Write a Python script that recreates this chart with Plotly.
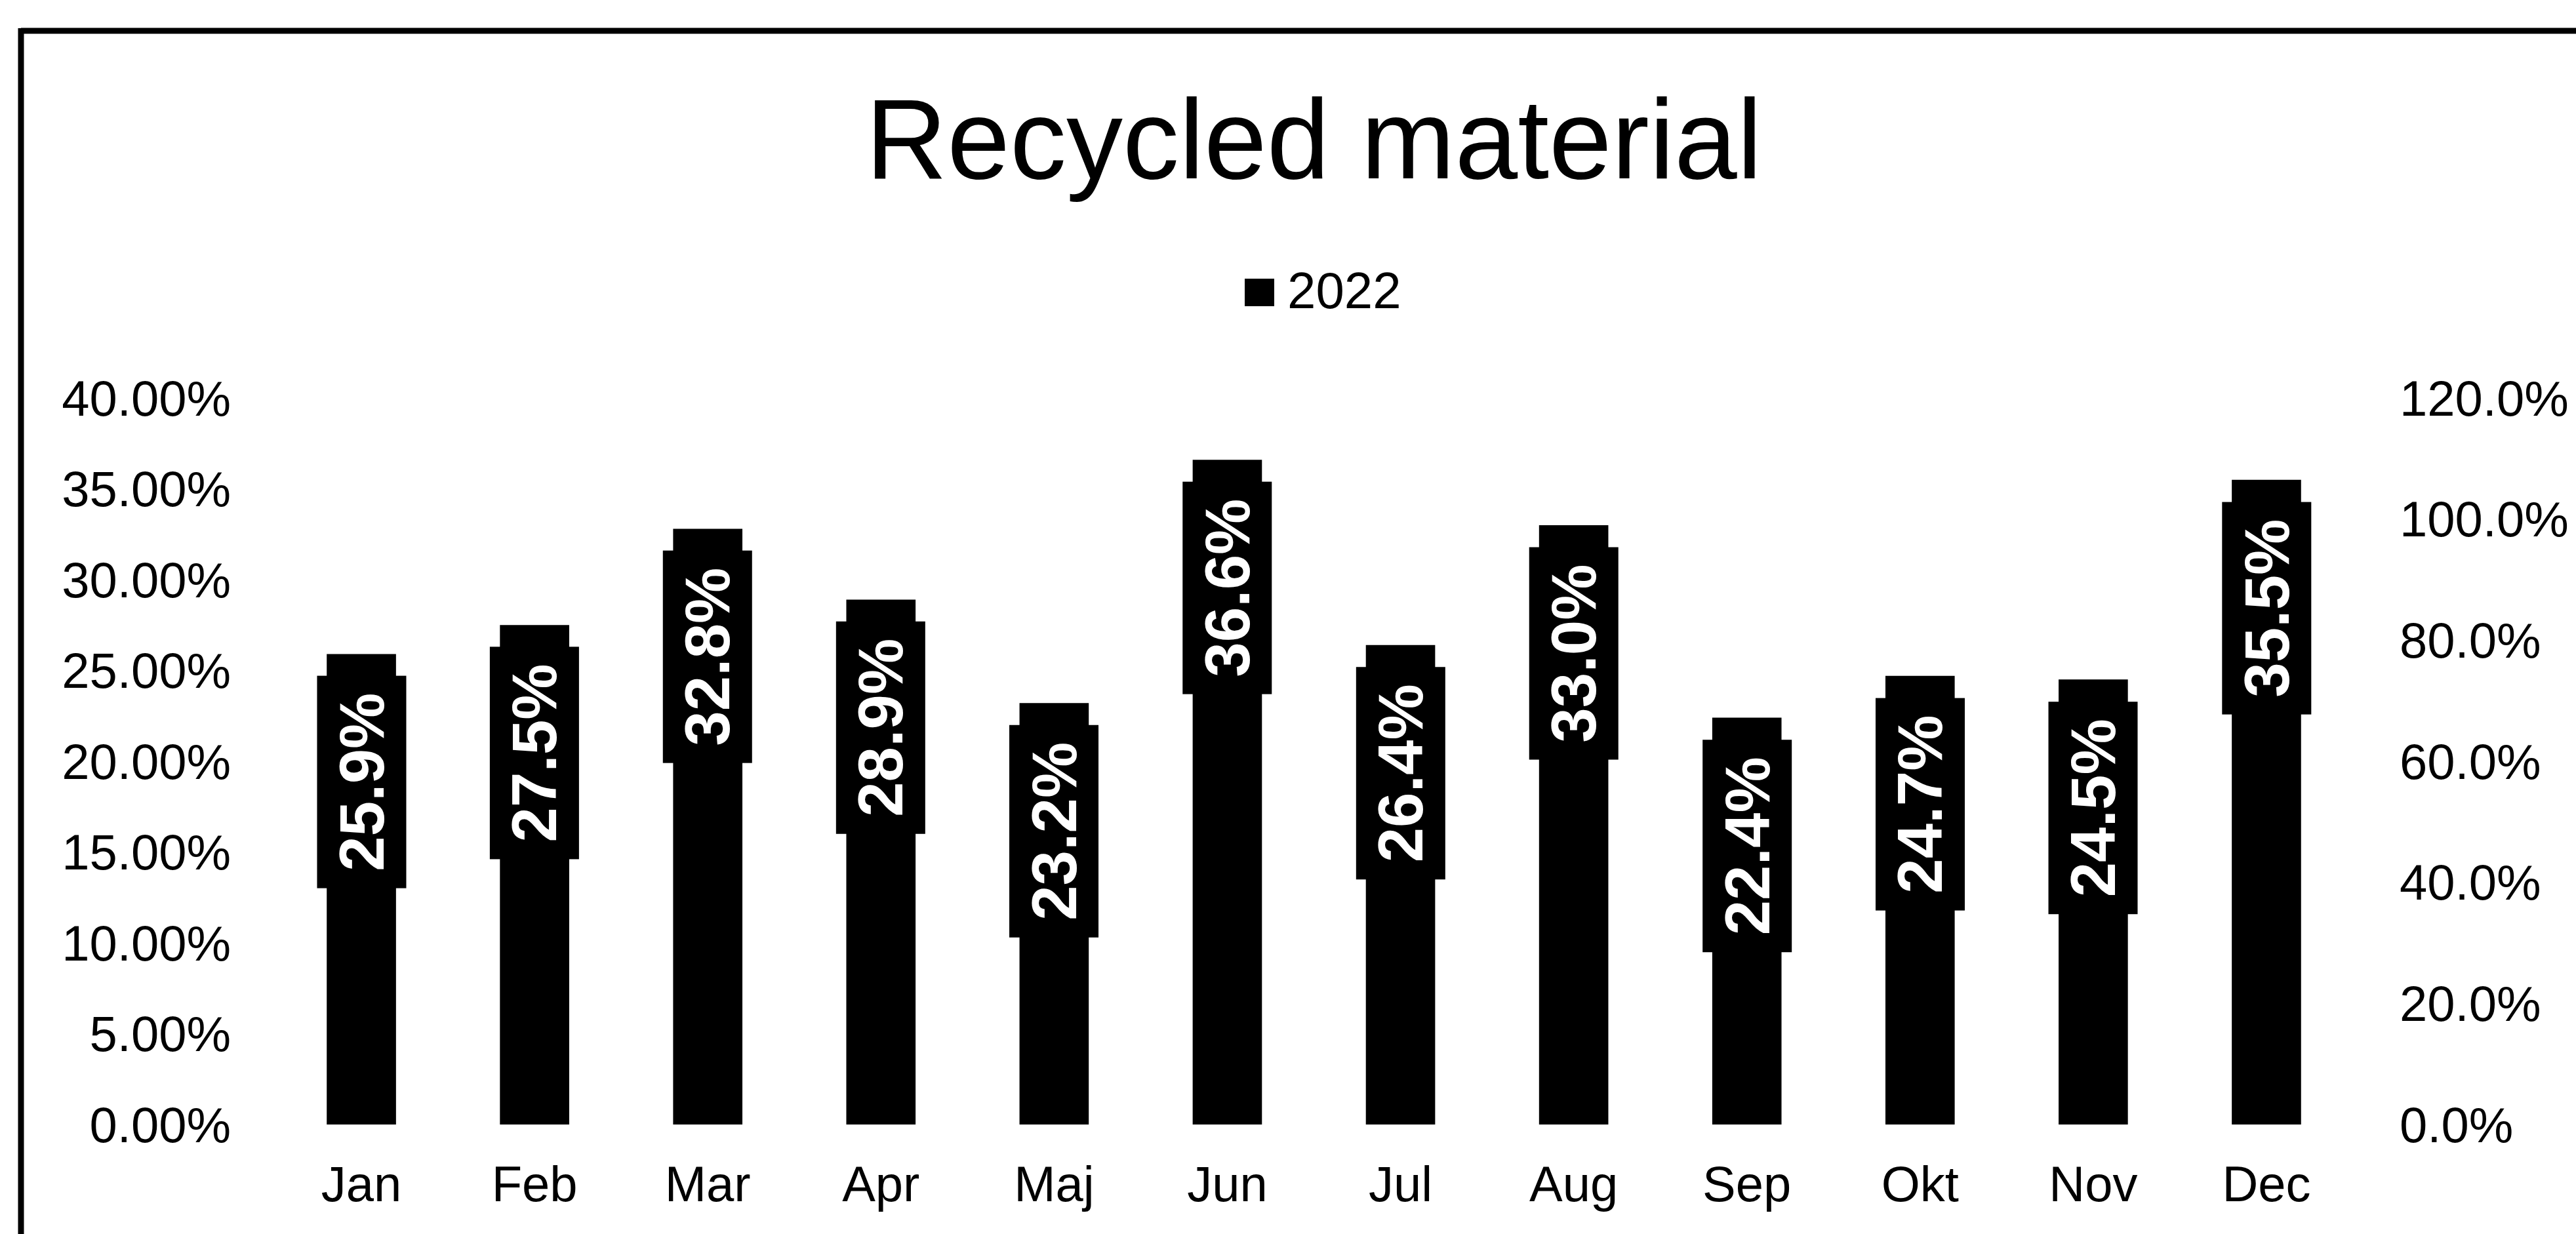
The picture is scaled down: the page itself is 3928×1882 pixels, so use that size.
import plotly.graph_objects as go

# Monthly share of recycled material, 2022 (percent)
months = ["Jan", "Feb", "Mar", "Apr", "Maj", "Jun", "Jul", "Aug", "Sep", "Okt", "Nov", "Dec"]
recycled_pct = [25.9, 27.5, 32.8, 28.9, 23.2, 36.6, 26.4, 33.0, 22.4, 24.7, 24.5, 35.5]
series_name = "2022"
title_text = "Recycled material"

W, H = 3928, 1882
M_L, M_R, M_T, M_B = 419, 340, 607, 167
FONT = "Liberation Sans, Arial, sans-serif"


def px_x(px):
    """Pixel column -> paper x."""
    return (px - M_L) / (W - M_L - M_R)


def px_y(py):
    """Pixel row (from top) -> paper y."""
    return (H - M_B - py) / (H - M_T - M_B)


shares = [v / 100 for v in recycled_pct]

fig = go.Figure()
fig.add_trace(go.Bar(
    x=months, y=shares, name=series_name,
    marker=dict(color="#000000", line=dict(width=0)),
    showlegend=False, hoverinfo="x+y",
))
# empty series so the secondary percentage axis is drawn
fig.add_trace(go.Scatter(
    x=months, y=[None] * len(months), yaxis="y2",
    mode="lines", showlegend=False, hoverinfo="skip",
))

# value labels: black boxes with white vertical text near the bar tops
for m, v, s in zip(months, recycled_pct, shares):
    fig.add_annotation(
        x=m, y=s, xref="x", yref="y",
        text=f"{v:.1f}%", showarrow=False,
        textangle=-90, xanchor="center", yanchor="top", yshift=-33,
        bgcolor="#000000", borderpad=0, width=323, height=135,
        font=dict(family=FONT, size=96, color="#ffffff", weight="bold"),
    )

# legend entry
fig.add_shape(type="rect", xref="paper", yref="paper",
              x0=px_x(1898), x1=px_x(1943), y0=px_y(467), y1=px_y(425),
              fillcolor="#000000", line=dict(width=0))
fig.add_annotation(x=px_x(1961), y=px_y(443), xref="paper", yref="paper",
                   text=series_name, showarrow=False,
                   xanchor="left", yanchor="middle",
                   font=dict(family=FONT, size=78, color="#000000"))

# chart frame (top and left edges)
fig.add_shape(type="line", xref="paper", yref="paper",
              x0=px_x(32), x1=px_x(W + 10), y0=px_y(47), y1=px_y(47),
              line=dict(color="#000000", width=9))
fig.add_shape(type="line", xref="paper", yref="paper",
              x0=px_x(32), x1=px_x(32), y0=px_y(43), y1=px_y(H + 10),
              line=dict(color="#000000", width=9))

fig.update_layout(
    width=W, height=H,
    margin=dict(l=M_L, r=M_R, t=M_T, b=M_B, pad=0),
    paper_bgcolor="#ffffff", plot_bgcolor="#ffffff",
    font=dict(family=FONT, size=76, color="#000000"),
    title=dict(text=title_text, x=0.5, xref="paper", xanchor="center",
               y=1 - 212 / H, yref="container", yanchor="middle",
               font=dict(family=FONT, size=172, color="#000000")),
    bargap=0.6,
    showlegend=False,
    xaxis=dict(showgrid=False, showline=False, zeroline=False, ticks="",
               tickfont=dict(size=76), ticklabelstandoff=40),
    yaxis=dict(range=[0, 0.40], dtick=0.05, tickformat=".2%",
               showgrid=False, showline=False, zeroline=False, ticks="",
               tickfont=dict(size=76), ticklabelstandoff=66),
    yaxis2=dict(range=[0, 1.20], dtick=0.20, tickformat=".1%",
                overlaying="y", side="right",
                showgrid=False, showline=False, zeroline=False, ticks="",
                tickfont=dict(size=76), ticklabelstandoff=70),
)

fig.write_html("out.html")
